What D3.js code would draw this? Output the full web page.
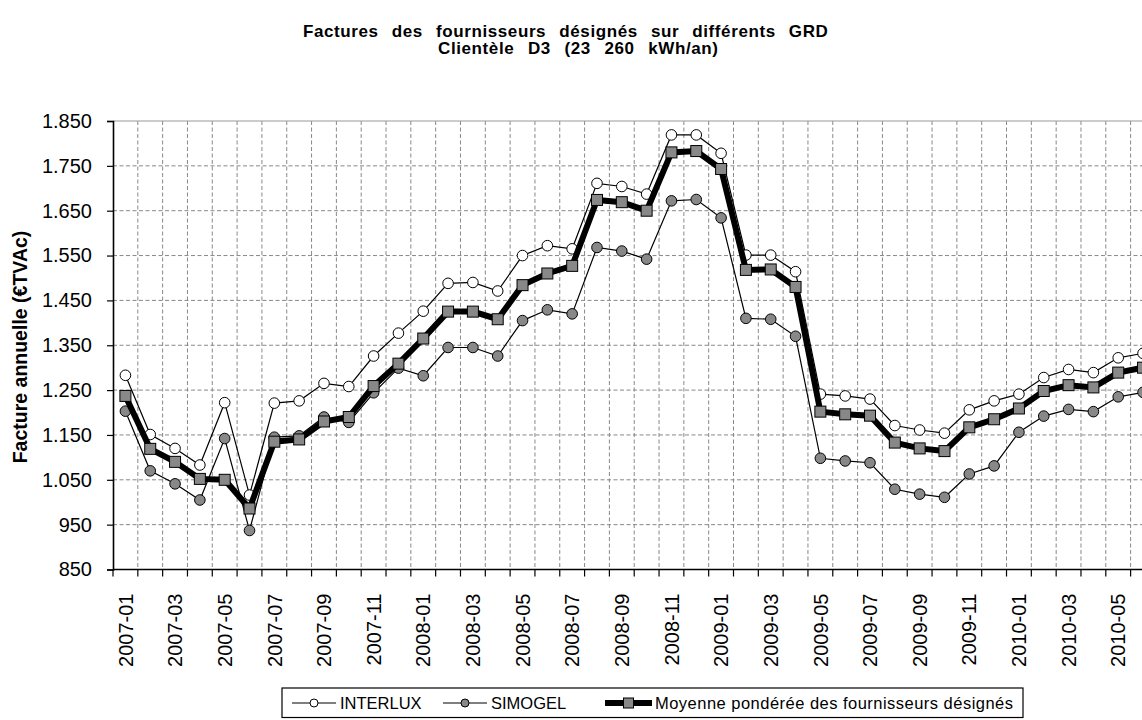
<!DOCTYPE html>
<html><head><meta charset="utf-8">
<script src="https://cdn.jsdelivr.net/npm/d3@7"></script>
<style>body{margin:0;background:#fff}svg{display:block;font-family:Arial,"Liberation Sans",sans-serif}</style>
</head><body><svg id="c" width="1142" height="720"></svg>
<script>
const months = ["2007-01","2007-02","2007-03","2007-04","2007-05","2007-06","2007-07","2007-08","2007-09","2007-10","2007-11","2007-12",
"2008-01","2008-02","2008-03","2008-04","2008-05","2008-06","2008-07","2008-08","2008-09","2008-10","2008-11","2008-12",
"2009-01","2009-02","2009-03","2009-04","2009-05","2009-06","2009-07","2009-08","2009-09","2009-10","2009-11","2009-12",
"2010-01","2010-02","2010-03","2010-04","2010-05","2010-06"];
const interlux = [1283,1151,1120,1083,1222,1016,1221,1226,1265,1258,1326,1377,1426,1488,1490,1471,1550,1572,1565,1711,1704,1687,1819,1819,1778,1551,1551,1514,1241,1237,1230,1171,1161,1154,1206,1226,1241,1278,1296,1289,1322,1332];
const simogel = [1203,1070,1041,1005,1142,937,1145,1148,1190,1178,1244,1299,1282,1345,1345,1326,1405,1429,1420,1568,1560,1542,1672,1675,1634,1410,1408,1370,1098,1092,1088,1029,1018,1011,1063,1081,1156,1192,1207,1202,1235,1245];
const moyenne = [1237,1119,1090,1052,1050,986,1135,1140,1180,1190,1259,1309,1365,1425,1425,1408,1484,1510,1527,1674,1669,1650,1780,1783,1743,1518,1519,1480,1202,1196,1193,1133,1120,1114,1167,1185,1209,1248,1261,1256,1289,1300];
const yTicks = [850,950,1050,1150,1250,1350,1450,1550,1650,1750,1850];
const xTickLabels = ["2007-01","2007-03","2007-05","2007-07","2007-09","2007-11","2008-01","2008-03","2008-05","2008-07","2008-09","2008-11","2009-01","2009-03","2009-05","2009-07","2009-09","2009-11","2010-01","2010-03","2010-05"];
const seriesNames = ["INTERLUX","SIMOGEL","Moyenne pondérée des fournisseurs désignés"];
const titleLines = ["Factures des fournisseurs désignés sur différents GRD","Clientèle D3 (23 260 kWh/an)"];
const yTitle = "Facture annuelle (€TVAc)";

const svg = d3.select("#c");
const L = 113, T = 121, B = 569.5, bw = 24.82;
const x = d3.scaleBand().domain(months).range([L, L + months.length * bw]).padding(0);
const xc = d => x(d) + x.bandwidth() / 2;
const y = d3.scaleLinear().domain([850, 1850]).range([B, T]);
const R = x.range()[1];
const loc = d3.formatLocale({decimal: ",", thousands: ".", grouping: [3], currency: ["", "€"]});
const fmt = loc.format(",");

// title
svg.append("text").attr("x", 303).attr("y", 36.7).style("word-spacing", "7.8px").style("letter-spacing", "0.6px")
  .style("font-size", "17px").style("font-weight", "bold").text(titleLines[0]);
svg.append("text").attr("x", 438).attr("y", 54.3).style("word-spacing", "8.3px").style("letter-spacing", "0.6px")
  .style("font-size", "17px").style("font-weight", "bold").text(titleLines[1]);

// grid
const g = svg.append("g");
g.selectAll("line.h").data(yTicks.filter(v => v > 850 && v < 1850)).join("line")
  .attr("x1", L).attr("x2", R).attr("y1", d => y(d)).attr("y2", d => y(d))
  .attr("stroke", "#888").attr("stroke-width", 1).attr("stroke-dasharray", "4,2.5");
g.selectAll("line.v").data(months.slice(1)).join("line")
  .attr("x1", d => x(d)).attr("x2", d => x(d)).attr("y1", T).attr("y2", B)
  .attr("stroke", "#888").attr("stroke-width", 1).attr("stroke-dasharray", "4,2.5");
g.append("line").attr("x1", L).attr("x2", R).attr("y1", y(1850)).attr("y2", y(1850))
  .attr("stroke", "#999").attr("stroke-width", 1.2);

// y axis
const ya = svg.append("g").attr("transform", `translate(${L},0)`)
  .call(d3.axisLeft(y).tickValues(yTicks).tickFormat(fmt).tickSize(6).tickPadding(15));
ya.select(".domain").attr("stroke", "#000").attr("stroke-width", 1.6);
ya.selectAll(".tick line").attr("stroke", "#000").attr("stroke-width", 1.2);
ya.selectAll("text").style("font-size", "20px").attr("fill", "#000").style("font-family", "Arial,'Liberation Sans',sans-serif");

// x axis
svg.append("line").attr("x1", L).attr("x2", R).attr("y1", B).attr("y2", B).attr("stroke", "#000").attr("stroke-width", 1.6);
svg.selectAll("line.xt").data(months).join("line").attr("class", "xt")
  .attr("x1", d => x(d)).attr("x2", d => x(d)).attr("y1", B).attr("y2", B + 7)
  .attr("stroke", "#000").attr("stroke-width", 1.2);
svg.selectAll("text.xl").data(xTickLabels).join("text").attr("class", "xl")
  .attr("transform", d => `translate(${xc(d)},${B + 24}) rotate(-90)`)
  .attr("dy", "0.36em").attr("text-anchor", "end").style("font-size", "20px").text(d => d);

// y title
svg.append("text").attr("transform", "translate(20,347) rotate(-90)").attr("dy", "0.36em")
  .attr("text-anchor", "middle").style("font-size", "19.5px").style("font-weight", "bold").text(yTitle);

// series
const line = d3.line().x((d, i) => xc(months[i])).y(d => y(d));
const plot = svg.append("g");
function thin(data, fill) {
  plot.append("path").datum(data).attr("d", line).attr("fill", "none").attr("stroke", "#000").attr("stroke-width", 1.2);
  plot.append("g").selectAll("circle").data(data).join("circle")
    .attr("cx", (d, i) => xc(months[i])).attr("cy", d => y(d)).attr("r", 5.3)
    .attr("fill", fill).attr("stroke", "#000").attr("stroke-width", 1);
}
thin(interlux, "#fff");
thin(simogel, "#888");
plot.append("path").datum(moyenne).attr("d", line).attr("fill", "none").attr("stroke", "#000").attr("stroke-width", 6).attr("stroke-linejoin", "miter");
plot.append("g").selectAll("rect").data(moyenne).join("rect")
  .attr("x", (d, i) => xc(months[i]) - 5.5).attr("y", d => y(d) - 5.5).attr("width", 11).attr("height", 11)
  .attr("fill", "#888").attr("stroke", "#000").attr("stroke-width", 1);

// legend
const lg = svg.append("g");
lg.append("rect").attr("x", 282).attr("y", 688).attr("width", 741).attr("height", 29.5)
  .attr("fill", "#fff").attr("stroke", "#000").attr("stroke-width", 1.2);
const ly = 703;
const items = [
  {sx: 292, ex: 336, tx: 340, tl: null, kind: "c", fill: "#fff"},
  {sx: 443, ex: 487, tx: 491, tl: null, kind: "c", fill: "#888"},
  {sx: 605, ex: 652, tx: 655, tl: 358, kind: "s", fill: "#888"}
];
items.forEach((it, k) => {
  lg.append("line").attr("x1", it.sx).attr("x2", it.ex).attr("y1", ly).attr("y2", ly)
    .attr("stroke", "#000").attr("stroke-width", it.kind === "s" ? 6 : 1.2);
  const mx = (it.sx + it.ex) / 2;
  if (it.kind === "c") lg.append("circle").attr("cx", mx).attr("cy", ly).attr("r", 4).attr("fill", it.fill).attr("stroke", "#000");
  else lg.append("rect").attr("x", mx - 5).attr("y", ly - 5).attr("width", 10).attr("height", 10).attr("fill", it.fill).attr("stroke", "#000");
  const t = lg.append("text").attr("x", it.tx).attr("y", ly).attr("dy", "0.36em")
    .style("font-size", "16.5px").text(seriesNames[k]);
  if (it.tl) t.attr("textLength", it.tl).attr("lengthAdjust", "spacing");
});
</script></body></html>
